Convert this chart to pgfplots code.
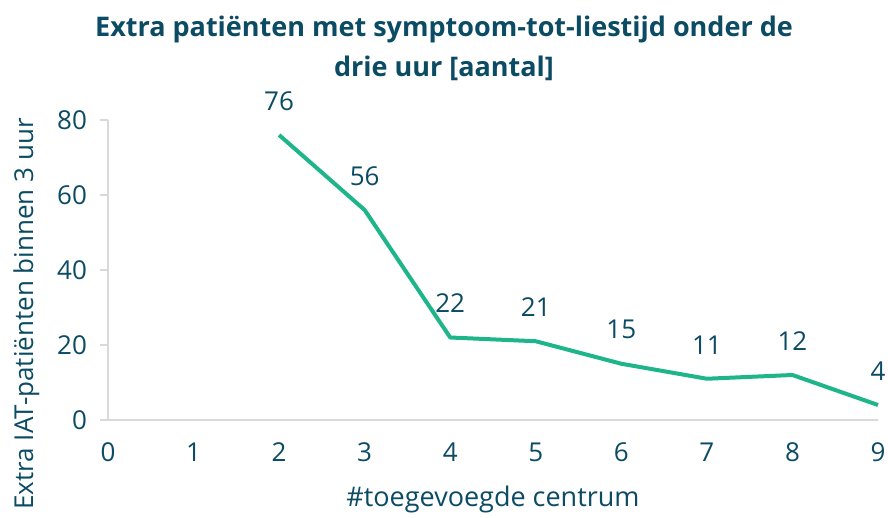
\documentclass[border=0pt]{standalone}
\usepackage{pgfplots}
\pgfplotsset{compat=1.18}
\usepackage{fontspec}
\setmainfont{Open Sans}
\definecolor{txt}{HTML}{0B4B63}
\definecolor{ln}{HTML}{1DB589}
\definecolor{ax}{HTML}{D9D9D9}
\begin{document}
\begin{tikzpicture}
\useasboundingbox (0,0) rectangle (444pt,259pt);
\node[text=txt, font=\fontsize{13.5}{20}\selectfont\bfseries, align=center] at (222pt,235pt) {Extra patiënten met symptoom-tot-liestijd onder de\\drie uur [aantal]};
\begin{axis}[
  at={(54pt,49pt)}, anchor=south west,
  scale only axis, width=385pt, height=150pt,
  xmin=0, xmax=9, ymin=0, ymax=80,
  xtick={0,...,9}, ytick={0,20,...,80},
  axis x line*=bottom, axis y line*=left,
  axis line style={ax, line width=0.8pt, -},
  x axis line style={-}, y axis line style={-},
  xtick style={draw=none},
  ytick style={ax, line width=0.8pt},
  ytick align=outside, major tick length=4pt,
  tick label style={text=txt, font=\fontsize{13}{15}\selectfont},
  /pgf/number format/assume math mode=true,
  xticklabel style={yshift=-8pt},
  yticklabel style={xshift=-3pt},
  xlabel={\#toegevoegde centrum},
  ylabel={Extra IAT-patiënten binnen 3 uur},
  label style={text=txt, font=\fontsize{13}{15}\selectfont},
  xlabel style={yshift=-5pt, font=\fontsize{13.5}{15}\selectfont},
  ylabel style={yshift=2pt, xshift=-22pt},
  clip=false,
  nodes near coords,
  nodes near coords style={text=txt, font=\fontsize{13}{15}\selectfont, anchor=south, yshift=8pt},
]
\addplot[ln, line width=2pt, line join=round] coordinates {
(2,76) (3,56) (4,22) (5,21) (6,15) (7,11) (8,12) (9,4)
};
\end{axis}
\end{tikzpicture}
\end{document}
